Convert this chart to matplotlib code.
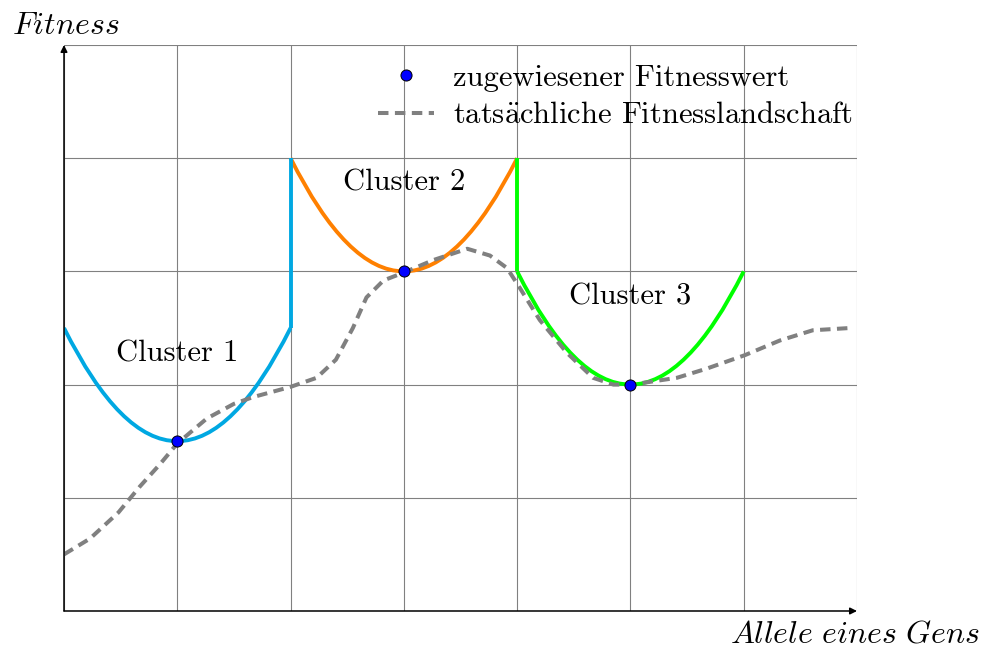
import matplotlib
matplotlib.use("Agg")
import matplotlib.pyplot as plt
from matplotlib.path import Path
from matplotlib.patches import PathPatch

plt.rcParams['mathtext.fontset'] = 'cm'
plt.rcParams['font.family'] = ['cmr10', 'DejaVu Serif']
plt.rcParams['axes.unicode_minus'] = False

# ---- data ----
cluster_names = ["Cluster 1", "Cluster 2", "Cluster 3"]
cluster_centers = [1, 3, 5]
cluster_minima = [1.5, 3.0, 2.0]
cluster_edges = [2.5, 4.0, 3.0]
cluster_halfwidth = 1
cluster_colors = ["#00A8E2", "#FF8000", "#00FF00"]
# vertical jumps at cluster boundaries: (x, y_from, y_to, colour index)
jump_x = [2, 4]
jump_from = [2.5, 4.0]
jump_to = [4.0, 3.0]
jump_color_idx = [0, 2]
label_x = [1.0, 3.0, 5.0]
label_y = [2.27, 3.78, 2.78]

landscape_x = [0.00, 0.23, 0.48, 0.67, 0.85, 1.00, 1.26, 1.50, 1.67, 2.00,
               2.23, 2.40, 2.55, 2.67, 2.82, 3.00, 3.26, 3.56, 3.76, 3.91,
               4.02, 4.20, 4.44, 4.67, 4.85, 5.01, 5.41, 5.67, 6.01, 6.32,
               6.61, 6.94]
landscape_y = [0.50, 0.64, 0.87, 1.10, 1.30, 1.48, 1.70, 1.83, 1.89, 1.98,
               2.06, 2.22, 2.50, 2.77, 2.92, 2.99, 3.10, 3.20, 3.14, 3.03,
               2.86, 2.57, 2.28, 2.06, 2.00, 2.00, 2.06, 2.14, 2.26, 2.39,
               2.48, 2.50]

legend_labels = ['zugewiesener Fitnesswert',
                 r'tats$\ddot{\mathrm{a}}$chliche Fitnesslandschaft']

x_max, y_max = 7, 5

fig = plt.figure(figsize=(9.83, 6.5), dpi=100)
ax = fig.add_axes([64/983, 39/650, 793/983, 566/650])
ax.set_xlim(0, x_max)
ax.set_ylim(0, y_max)
for s in ax.spines.values():
    s.set_visible(False)
ax.set_xticks(range(0, x_max + 1))
ax.set_yticks(range(0, y_max + 1))
ax.tick_params(length=0, labelbottom=False, labelleft=False)
ax.grid(True, color='#808080', lw=0.8)

# axes arrows
ax.annotate('', xy=(x_max, 0), xytext=(0, 0),
            arrowprops=dict(arrowstyle='-|>', color='black', lw=1.1,
                            mutation_scale=10, shrinkA=0, shrinkB=0),
            annotation_clip=False, zorder=5)
ax.annotate('', xy=(0, y_max), xytext=(0, 0),
            arrowprops=dict(arrowstyle='-|>', color='black', lw=1.1,
                            mutation_scale=10, shrinkA=0, shrinkB=0),
            annotation_clip=False, zorder=5)

# clusters as parabolic (quadratic Bezier) arcs
for c, m, e, col in zip(cluster_centers, cluster_minima, cluster_edges, cluster_colors):
    verts = [(c - cluster_halfwidth, e), (c, 2 * m - e), (c + cluster_halfwidth, e)]
    path = Path(verts, [Path.MOVETO, Path.CURVE3, Path.CURVE3])
    ax.add_patch(PathPatch(path, fill=False, edgecolor=col, lw=2.8, zorder=3,
                           capstyle='butt'))
for jx, y0, y1, ci in zip(jump_x, jump_from, jump_to, jump_color_idx):
    ax.plot([jx, jx], [y0, y1], color=cluster_colors[ci], lw=2.8, zorder=3,
            solid_capstyle='butt')

for name, lx, ly in zip(cluster_names, label_x, label_y):
    ax.text(lx, ly, name, ha='center', va='center', fontsize=22, zorder=6)

land, = ax.plot(landscape_x, landscape_y, color='#808080', lw=2.9,
                dashes=(2.6, 1.6), zorder=4, label=legend_labels[1])
pts, = ax.plot(cluster_centers, cluster_minima, 'o', color='#0000FF',
               markeredgecolor='black', markeredgewidth=0.7, markersize=8,
               zorder=7, label=legend_labels[0])

ax.legend(handles=[pts, land], loc='upper right', frameon=False, fontsize=22,
          handlelength=1.85, handletextpad=0.6, borderaxespad=0.0,
          borderpad=0.15, labelspacing=0.33, bbox_to_anchor=(1.0, 0.974))

fig.text(12/983, 1 - 26/650, r'$Fitness$', fontsize=23, ha='left', va='center')
fig.text(980/983, 1 - 635/650, r'$Allele\ eines\ Gens$', fontsize=23,
         ha='right', va='center')

fig.savefig('out.png', dpi=100)
